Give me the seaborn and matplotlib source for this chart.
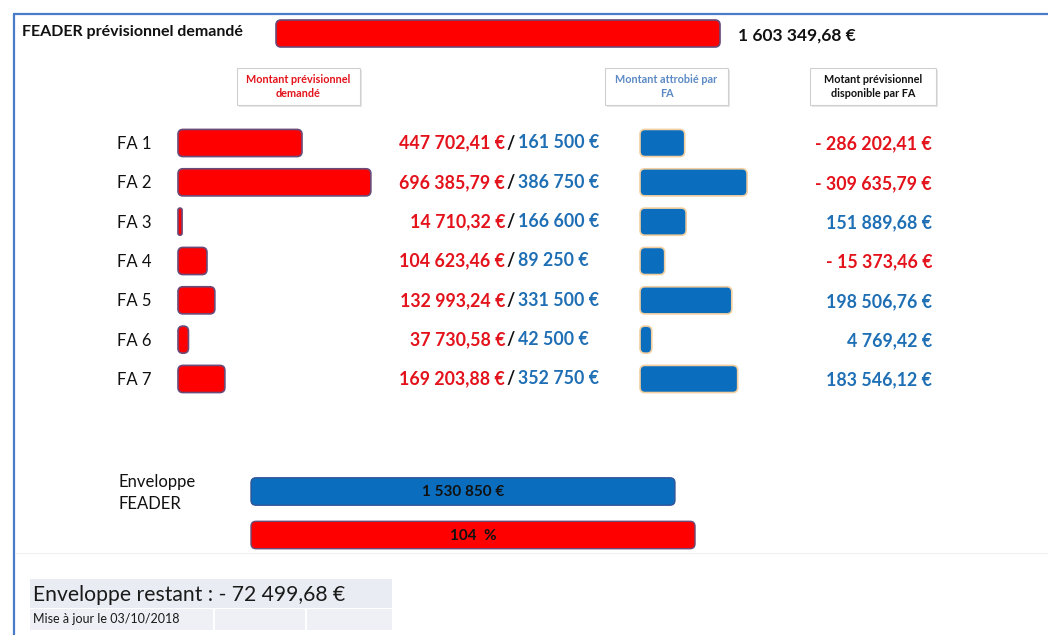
import numpy as np
import pandas as pd
import matplotlib
matplotlib.use("Agg")
import matplotlib.pyplot as plt
import seaborn as sns
from matplotlib.patches import FancyBboxPatch, Rectangle
from matplotlib.transforms import IdentityTransform
from matplotlib.lines import Line2D

# ---------------- data ----------------
fa_labels = ["FA 1", "FA 2", "FA 3", "FA 4", "FA 5", "FA 6", "FA 7"]
montant_demande = [447702.41, 696385.79, 14710.32, 104623.46, 132993.24, 37730.58, 169203.88]
montant_attribue = [161500, 386750, 166600, 89250, 331500, 42500, 352750]
title_text = "FEADER prévisionnel demandé"
header_labels = ["Montant prévisionnel\ndemandé", "Montant attrobié par\nFA",
                 "Motant prévisionnel\ndisponible par FA"]
env_label = "Enveloppe\nFEADER"
restant_label = "Enveloppe restant :"
update_text = "Mise à jour le 03/10/2018"

# ---------------- style ----------------
sns.set_style("white")
plt.rcParams["font.family"] = ["Lato", "DejaVu Sans"]

RED = "#ff0000"
BLUE = "#0b6dbd"
TXT_RED = "#e3121b"
TXT_BLUE = "#1f6fb5"
W, H = 1048, 635
EUR_PER_PX = 3611.0

fig = plt.figure(figsize=(W / 100, H / 100), dpi=100)


def fr(v, dec=2):
    s = f"{abs(v):,.{dec}f}".replace(",", " ").replace(".", ",")
    return ("- " if v < 0 else "") + s + " €"


def axes_px(x0, y0, x1, y1):
    ax = fig.add_axes([x0 / W, 1 - y1 / H, (x1 - x0) / W, (y1 - y0) / H])
    return ax, (x1 - x0)


def txt(x, y, s, **kw):
    kw.setdefault("va", "center")
    return fig.text(x / W, 1 - y / H, s, **kw)


def box_px(x0, y0, x1, y1, r=0, **kw):
    p = FancyBboxPatch((x0, H - y1), x1 - x0, y1 - y0,
                       boxstyle=f"round,pad=0,rounding_size={r}" if r else "square,pad=0",
                       transform=IdentityTransform(), **kw)
    fig.add_artist(p)
    return p


def round_bars(ax, ecs, lw=1.2, r=5):
    for i, p in enumerate(list(ax.patches)):
        x, y, w, h = p.get_x(), p.get_y(), p.get_width(), p.get_height()
        fc = p.get_facecolor()
        (ax0, ay0) = ax.transData.transform((x, y))
        (ax1, ay1) = ax.transData.transform((x + w, y + h))
        p.remove()
        X0, X1 = sorted([ax0, ax1])
        Y0, Y1 = sorted([ay0, ay1])
        rr = max(0.5, min(r, (X1 - X0) / 2, (Y1 - Y0) / 2))
        ec = ecs[i] if isinstance(ecs, list) else ecs
        fb = FancyBboxPatch((X0, Y0), X1 - X0, Y1 - Y0,
                            boxstyle=f"round,pad=0,rounding_size={rr}",
                            fc=fc, ec=ec, lw=lw, transform=IdentityTransform(), zorder=3)
        fig.add_artist(fb)


df = pd.DataFrame({"FA": fa_labels, "demande": montant_demande, "attribue": montant_attribue})
df["disponible"] = df["attribue"] - df["demande"]
total_demande = df["demande"].sum()
enveloppe = df["attribue"].sum()
restant = enveloppe - total_demande
pct = int(total_demande / enveloppe * 100)

n = len(df)
row_top, row_h = 143 - 39.33 / 2, 39.33

# ---------------- frame ----------------
fig.add_artist(Line2D([14 / W, 1], [1 - 14 / H, 1 - 14 / H], transform=fig.transFigure,
                      color="#4a7bc8", lw=1.6))
fig.add_artist(Line2D([14 / W, 14 / W], [0, 1 - 14 / H], transform=fig.transFigure,
                      color="#4a7bc8", lw=1.6))
fig.add_artist(Line2D([15 / W, 1], [1 - 553 / H, 1 - 553 / H], transform=fig.transFigure,
                      color="#f0f0f0", lw=0.8))

# ---------------- top bar ----------------
ax_top, wpx = axes_px(276, 33.5 - 27 / 0.8 / 2, 276 + 480, 33.5 + 27 / 0.8 / 2)
sns.barplot(x=[total_demande], y=["total"], orient="h", color=RED, saturation=1, ax=ax_top)
ax_top.set_xlim(0, wpx * EUR_PER_PX)
ax_top.set_ylim(0.5, -0.5)
ax_top.set_axis_off()
round_bars(ax_top, "#6a4a78", lw=1.2)
txt(22, 32, title_text, fontsize=11.5, fontweight="bold", color="#111111")
txt(738, 36, fr(total_demande), fontsize=12.5, fontweight="bold", color="#111111")

# ---------------- header boxes ----------------
hdr_pos = [(237, 360), (605, 728), (810, 936)]
hdr_col = [TXT_RED, "#5b8ac4", "#111111"]
for (x0, x1), lab, col in zip(hdr_pos, header_labels, hdr_col):
    box_px(x0 + 1.5, 69.5, x1 + 1.5, 106.5, fc="#e6e6e6", ec="none", zorder=1)
    box_px(x0, 68, x1, 105, fc="white", ec="#d0d0d0", lw=0.8, zorder=2)
    txt((x0 + x1) / 2, 86.5, lab, fontsize=7.8, fontweight="bold", color=col,
        ha="center", linespacing=1.35, zorder=3)

# ---------------- FA red bars ----------------
ax_r, wpx = axes_px(178, row_top, 400, row_top + n * row_h)
sns.barplot(data=df, y="FA", x="demande", orient="h", color=RED, saturation=1,
            width=0.69, ax=ax_r)
ax_r.set_xlim(0, wpx * EUR_PER_PX)
ax_r.set_ylim(n - 0.5, -0.5)
ax_r.set_axis_off()
round_bars(ax_r, "#6a4a78", lw=1.2)

# ---------------- FA blue bars ----------------
ax_b, wpx = axes_px(640, row_top, 800, row_top + n * row_h)
sns.barplot(data=df, y="FA", x="attribue", orient="h", color=BLUE, saturation=1,
            width=0.69, ax=ax_b)
ax_b.set_xlim(0, wpx * EUR_PER_PX)
ax_b.set_ylim(n - 0.5, -0.5)
ax_b.set_axis_off()
round_bars(ax_b, "#f2cfa0", lw=1.2)

# ---------------- FA texts ----------------
for i, row in df.iterrows():
    yc = 143 + i * row_h
    txt(117, yc + 1, row["FA"], fontsize=12, color="#111111")
    txt(505, yc, fr(row["demande"]), fontsize=12.8, fontweight="bold", color=TXT_RED, ha="right")
    txt(511, yc, "/", fontsize=12.8, fontweight="bold", color="#111111", ha="center")
    txt(518, yc, fr(row["attribue"], 0), fontsize=12.8, fontweight="bold", color=TXT_BLUE, ha="left")
    d = row["disponible"]
    txt(932, yc + 1, fr(d), fontsize=12.8, fontweight="bold",
        color=TXT_RED if d < 0 else TXT_BLUE, ha="right")

# ---------------- enveloppe ----------------
env_df = pd.DataFrame({"k": ["env", "dem"], "v": [enveloppe, total_demande]})
band = 43.5
ax_e, wpx = axes_px(251, 491.5 - band / 2, 251 + 480, 491.5 + band * 1.5)
sns.barplot(data=env_df, y="k", x="v", hue="k", palette=[BLUE, RED], orient="h",
            saturation=1, width=0.63, legend=False, ax=ax_e)
ax_e.set_xlim(0, wpx * EUR_PER_PX)
ax_e.set_ylim(1.5, -0.5)
ax_e.set_axis_off()
round_bars(ax_e, ["#2f5597", "#6a4a78"], lw=1.0, r=5)
txt(118, 493, env_label, fontsize=12, color="#111111", ha="left", linespacing=1.5)
txt(251 + enveloppe / EUR_PER_PX / 2, 492, fr(enveloppe, 0), fontsize=11,
    fontweight="bold", color="#111111", ha="center", zorder=5)
txt(251 + total_demande / EUR_PER_PX / 2, 536, f"{pct}  %", fontsize=11,
    fontweight="bold", color="#111111", ha="center", zorder=5)

# ---------------- footer ----------------
box_px(30, 579, 392, 607.5, fc="#e9edf3", ec="none")
for x0, x1 in [(30, 213), (214.5, 305), (306.5, 392)]:
    box_px(x0, 609, x1, 630, fc="#eef0f5", ec="none")
txt(33, 595, f"{restant_label} {fr(restant)}", fontsize=15.2, color="#1a1a1a")
txt(33, 619, update_text, fontsize=9, color="#1a1a1a")

fig.savefig("out.png", dpi=100)
